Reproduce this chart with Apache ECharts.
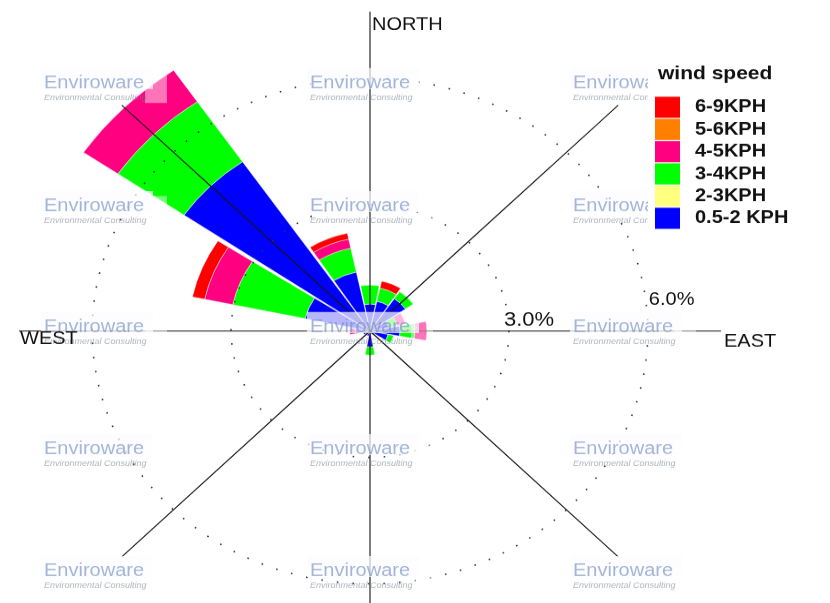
<!DOCTYPE html>
<html>
<head>
<meta charset="utf-8">
<script src="https://cdn.jsdelivr.net/npm/echarts@6/dist/echarts.min.js"></script>
<style>
  html, body { margin: 0; padding: 0; background: #ffffff; overflow: hidden; }
  #wrap { width: 830px; height: 603px; overflow: hidden; position: relative; background: #ffffff; }
  /* the rose is drawn slightly flattened vertically */
  #chart { width: 830px; height: 663px; transform: scaleY(0.91); transform-origin: 0 0; }
</style>
</head>
<body>
<div id="wrap"><div id="chart"></div></div>
<script>
// Wind directions (16 sectors, clockwise from north)
const directions = ['N', 'NNE', 'NE', 'ENE', 'E', 'ESE', 'SE', 'SSE', 'S', 'SSW', 'SW', 'WSW', 'W', 'WNW', 'NW', 'NNW'];

// Speed classes, from the centre outwards
const speedClasses = ['0.5-2 KPH', '2-3KPH', '3-4KPH', '4-5KPH', '5-6KPH', '6-9KPH'];
const classColors  = ['#0000ff', '#ffff80', '#00ff00', '#ff0080', '#ff8000', '#ff0000'];

// Frequency of occurrence (%) per direction, one array per speed class
const freq0_5to2 = [0.64, 0.72, 0.93, 0.42, 0.65, 0.40, 0.10, 0.08, 0.38, 0.12, 0.12, 0.15, 0.32, 1.43, 4.87, 1.43];
const freq2to3   = [0, 0, 0, 0, 0, 0, 0, 0, 0, 0, 0, 0, 0, 0, 0, 0];
const freq3to4   = [0.45, 0.32, 0.20, 0.18, 0.32, 0.12, 0, 0, 0.19, 0, 0, 0, 0, 1.60, 1.73, 0.58];
const freq4to5   = [0, 0, 0, 0.18, 0.26, 0, 0, 0, 0, 0, 0, 0, 0.12, 0.62, 0.90, 0.22];
const freq5to6   = [0, 0, 0, 0, 0, 0, 0, 0, 0, 0, 0, 0, 0, 0, 0, 0];
const freq6to9   = [0, 0.17, 0, 0, 0, 0, 0, 0, 0, 0, 0, 0, 0, 0.27, 0, 0.14];
const classFreqs = [freq0_5to2, freq2to3, freq3to4, freq4to5, freq5to6, freq6to9];

// Radial ticks (%) and their labels
const radiusTicks = [3, 6];
const radiusTickLabels = ['3.0%', '6.0%'];

// Compass labels
const compassNames = ['NORTH', 'WEST', 'EAST'];

// ---- layout ----
const SY = 0.91;                 // vertical flattening applied to the canvas
const Y = v => v / SY;           // screen y -> canvas y
const CX = 370, CY = Y(331);     // rose centre
const R = 351;                   // outer radius of the compass lines, px
const RMAX = 7.58;               // frequency (%) at that radius
const FONT = 'Liberation Sans, Arial, sans-serif';

const chart = echarts.init(document.getElementById('chart'), null, { renderer: 'canvas' });

const noAxis = {
  axisLine: { show: false }, axisTick: { show: false },
  axisLabel: { show: false }, splitLine: { show: false }, splitArea: { show: false }
};

const series = speedClasses.map((name, i) => ({
  type: 'bar',
  name: name,
  coordinateSystem: 'polar',
  polarIndex: 0,
  stack: 'rose',
  barCategoryGap: '6%',
  data: classFreqs[i].map(v => (v > 0 ? v : '-')),
  itemStyle: { color: classColors[i], borderColor: 'rgba(255,255,255,0.75)', borderWidth: 0.6 },
  emphasis: { disabled: true },
  silent: true,
  z: 2
}));

chart.setOption({
  animation: false,
  backgroundColor: '#ffffff',
  polar: [
    { center: [CX, CY], radius: R },
    { center: [CX, CY], radius: R }
  ],
  angleAxis: [
    Object.assign({ polarIndex: 0, type: 'category', data: directions, startAngle: 90 + 11.25, clockwise: true }, noAxis),
    Object.assign({}, noAxis, {
      polarIndex: 1, type: 'value', min: 0, max: 360, interval: 45, startAngle: 90, clockwise: true, z: 5,
      splitLine: { show: true, lineStyle: { color: '#151515', width: 1.1 } }
    })
  ],
  radiusAxis: [
    Object.assign({ polarIndex: 0, type: 'value', min: 0, max: RMAX }, noAxis),
    Object.assign({}, noAxis, {
      polarIndex: 1, type: 'value', min: 0, max: RMAX, interval: 3, z: 5,
      splitLine: {
        show: true,
        lineStyle: { color: ['rgba(0,0,0,0)', '#333333', '#333333', 'rgba(0,0,0,0)'], width: 1.6, type: [1.6, 14] }
      }
    })
  ],
  legend: {
    orient: 'vertical',
    left: 650,
    top: Y(96.7) - 5,
    data: speedClasses.slice().reverse(),
    icon: 'rect',
    itemWidth: 25,
    itemHeight: 23.2,
    itemGap: 1.2,
    selectedMode: false,
    itemStyle: { borderWidth: 0 },
    textStyle: { fontFamily: FONT, fontSize: 20, fontWeight: 'bold', color: '#111', padding: [0, 0, 0, 10], lineHeight: 23 },
    z: 70
  },
  series: series
});

// point of the grid polar for a radius (%) and an angle (deg, clockwise from north)
function polarPoint(r, deg) {
  let p = null;
  try { p = chart.convertToPixel({ polarIndex: 1 }, [r, deg]); } catch (e) { p = null; }
  if (!p || isNaN(p[0])) {
    const rr = R * r / RMAX, a = deg * Math.PI / 180;
    p = [CX + rr * Math.sin(a), CY - rr * Math.cos(a)];
  }
  return p;
}

const graphics = [];

// watermark blocks
const wmCols = [44, 310, 573];
const wmRows = [83, 206, 327, 449, 571];
wmRows.forEach(cy => {
  wmCols.forEach(x => {
    graphics.push({ type: 'rect', z: 50, silent: true, shape: { x: x - 3, y: Y(cy - 15), width: 112, height: Y(21) },
      style: { fill: 'rgba(252,252,255,0.72)' } });
    graphics.push({ type: 'rect', z: 50, silent: true, shape: { x: x + 101, y: Y(cy - 10), width: 22, height: Y(30) },
      style: { fill: 'rgba(255,255,255,0.45)' } });
    graphics.push({ type: 'text', z: 51, silent: true, x: x, y: Y(cy),
      style: { text: 'Enviroware', fill: 'rgba(105,135,190,0.6)', fontFamily: FONT, fontSize: 20, align: 'left', verticalAlign: 'middle' } });
    graphics.push({ type: 'text', z: 51, silent: true, x: x, y: Y(cy + 14.5),
      style: { text: 'Environmental Consulting', fill: 'rgba(120,130,150,0.6)', fontFamily: FONT, fontSize: 9, fontStyle: 'italic', align: 'left', verticalAlign: 'middle' } });
  });
});

// legend box and title
graphics.push({ type: 'rect', z: 60, silent: true, shape: { x: 648, y: Y(55), width: 182, height: Y(183) }, style: { fill: '#ffffff' } });
graphics.push({ type: 'text', z: 70, silent: true, x: 658, y: Y(74),
  style: { text: 'wind speed', fill: '#111', fontFamily: FONT, fontSize: 21, fontWeight: 'bold', align: 'left', verticalAlign: 'middle' } });

// compass labels
const compassPos = { NORTH: [372, 25], WEST: [20, 339], EAST: [724, 342] };
compassNames.forEach(n => {
  graphics.push({ type: 'text', z: 70, silent: true, x: compassPos[n][0], y: Y(compassPos[n][1]),
    style: { text: n, fill: '#111', fontFamily: FONT, fontSize: 20, align: 'left', verticalAlign: 'middle' } });
});

// radial tick labels, placed next to their rings on the east side
const tickOffsets = [[-5, -11, 22], [1, -31, 20]];
radiusTicks.forEach((t, i) => {
  const p = polarPoint(t, 90);
  const o = tickOffsets[i];
  graphics.push({ type: 'text', z: 70, silent: true, x: p[0] + o[0], y: p[1] + Y(o[1]),
    style: { text: radiusTickLabels[i], fill: '#111', fontFamily: FONT, fontSize: o[2], align: 'left', verticalAlign: 'middle' } });
});

chart.setOption({ graphic: graphics });
</script>
</body>
</html>
